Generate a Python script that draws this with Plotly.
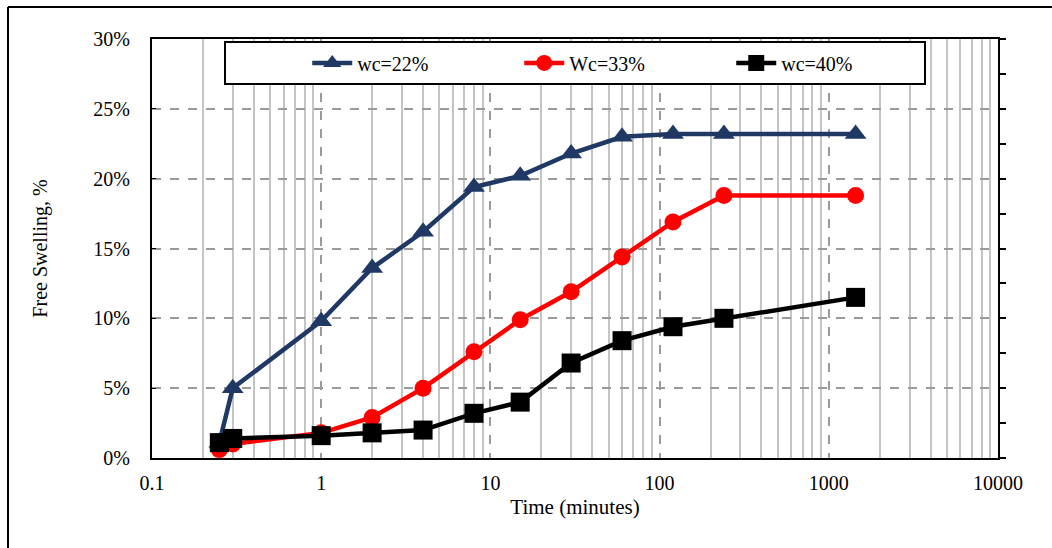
import plotly.graph_objects as go

# ---- data ----
time_min = [0.25, 0.3, 1, 2, 4, 8, 15, 30, 60, 120, 240, 1440]
wc22 = [1.1, 5.0, 9.8, 13.6, 16.2, 19.4, 20.2, 21.8, 23.0, 23.2, 23.2, 23.2]
wc33 = [0.6, 1.0, 1.8, 2.9, 5.0, 7.6, 9.9, 11.9, 14.4, 16.9, 18.8, 18.8]
wc40 = [1.1, 1.4, 1.6, 1.8, 2.0, 3.2, 4.0, 6.8, 8.4, 9.4, 10.0, 11.5]

x_ticks = [0.1, 1, 10, 100, 1000, 10000]
x_tick_labels = ["0.1", "1", "10", "100", "1000", "10000"]
x_minor = [m * 10 ** e for e in range(-1, 4) for m in range(2, 10)]

FONT = '"Liberation Serif", "Times New Roman", Times, serif'
NAVY = "#1f3864"
TF = dict(family=FONT, size=20, color="black")
TTF = dict(family=FONT, size=21, color="black")

fig = go.Figure()
fig.add_trace(go.Scatter(x=time_min, y=wc22, name="wc=22%", mode="lines+markers",
                         line=dict(color=NAVY, width=4.5),
                         marker=dict(symbol="triangle-up", size=19, color=NAVY),
                         cliponaxis=False))
fig.add_trace(go.Scatter(x=time_min, y=wc33, name="Wc=33%", mode="lines+markers",
                         line=dict(color="#ff0000", width=4.5),
                         marker=dict(symbol="circle", size=17, color="#ff0000"),
                         cliponaxis=False))
fig.add_trace(go.Scatter(x=time_min, y=wc40, name="wc=40%", mode="lines+markers",
                         line=dict(color="black", width=4.5),
                         marker=dict(symbol="square", size=19, color="black"),
                         cliponaxis=False))
# helper trace for right-hand axis
fig.add_trace(go.Scatter(x=[], y=[], yaxis="y2", showlegend=False, hoverinfo="skip"))

fig.update_layout(
    width=1052, height=548,
    margin=dict(l=152, r=54, t=39, b=90, autoexpand=False),
    paper_bgcolor="white", plot_bgcolor="white",
    font=TF,
    showlegend=True,
    legend=dict(orientation="h", x=0.1835, y=0.943, xanchor="left", yanchor="middle",
                bgcolor="rgba(0,0,0,0)", borderwidth=0, font=TF,
                entrywidth=157, entrywidthmode="pixels", itemwidth=40),
    xaxis=dict(type="log", range=[-1, 4], tickvals=x_ticks, ticktext=x_tick_labels,
               showline=True, linecolor="black", linewidth=2, mirror=True,
               ticks="", showgrid=True, gridcolor="#9a9a9a", griddash="dash", gridwidth=1.5,
               minor=dict(tickvals=x_minor, showgrid=True, gridcolor="#c4c4c4", gridwidth=2,
                          griddash="solid", ticks=""),
               title=dict(text="Time (minutes)", standoff=6, font=TTF),
               tickfont=TF, ticklabelstandoff=6, zeroline=False),
    yaxis=dict(range=[0, 30], dtick=5, ticksuffix="%",
               showline=True, linecolor="black", linewidth=2,
               ticks="inside", ticklen=4, tickcolor="black",
               showgrid=True, gridcolor="#9a9a9a", griddash="dash", gridwidth=1.5,
               title=dict(text="Free Swelling, %", standoff=40, font=TF),
               tickfont=TF, ticklabelstandoff=16, zeroline=False),
    yaxis2=dict(range=[0, 30], overlaying="y", side="right", dtick=5,
                showline=True, linecolor="black", linewidth=2,
                ticks="outside", ticklen=6, tickwidth=1.5, tickcolor="black",
                minor=dict(dtick=2.5, ticks="outside", ticklen=6, tickwidth=1.5, tickcolor="black"),
                showticklabels=False, showgrid=False, zeroline=False),
)

# legend box
fig.add_shape(type="rect", xref="paper", yref="paper",
              x0=73 / 846, x1=773 / 846, y0=(458 - 84) / 419, y1=(458 - 42) / 419,
              line=dict(color="black", width=2), fillcolor="white", layer="above")
# outer frame (top and left edges)
fl = (8 - 152) / 846
ft = (458 - 7) / 419
fig.add_shape(type="line", xref="paper", yref="paper", x0=fl, x1=fl, y0=-0.3, y1=ft,
              line=dict(color="black", width=2))
fig.add_shape(type="line", xref="paper", yref="paper", x0=fl, x1=1.2, y0=ft, y1=ft,
              line=dict(color="black", width=2))

fig.write_html("out.html")
